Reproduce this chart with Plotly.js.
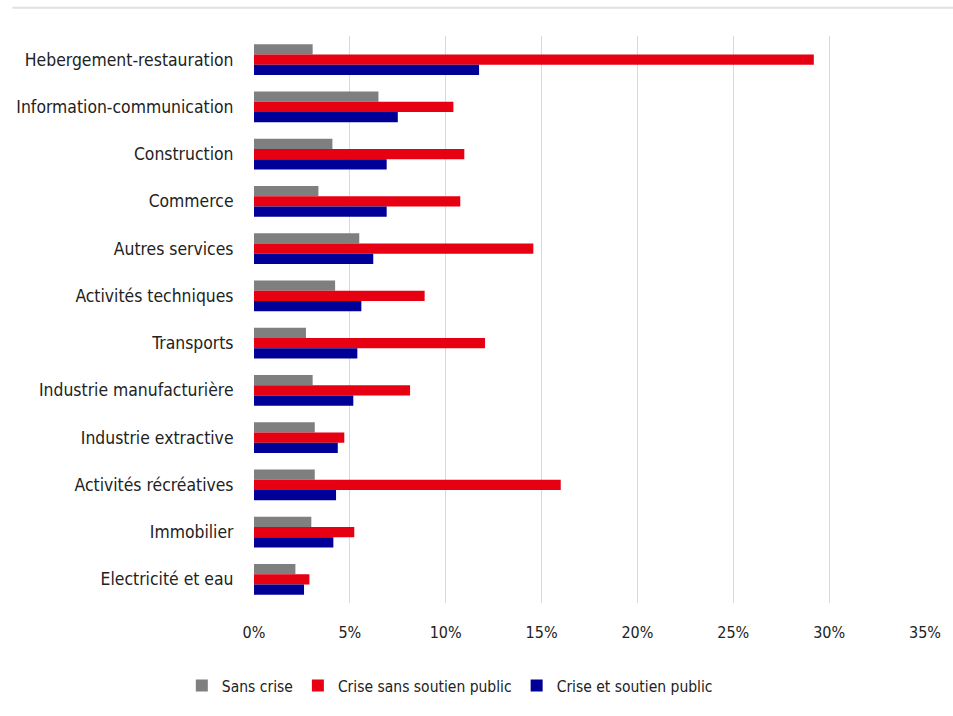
<!DOCTYPE html>
<html>
<head>
<meta charset="utf-8">
<script src="https://cdn.plot.ly/plotly-3.0.1.min.js"></script>
<style>html,body{margin:0;padding:0;background:#fff;}#chart{width:953px;height:716px;}</style>
</head>
<body>
<div id="chart"></div>
<script>
const categories = [
  "Hebergement-restauration",
  "Information-communication",
  "Construction",
  "Commerce",
  "Autres services",
  "Activités techniques",
  "Transports",
  "Industrie manufacturière",
  "Industrie extractive",
  "Activités récréatives",
  "Immobilier",
  "Electricité et eau"
];
const sansCrise = [3.06, 6.49, 4.09, 3.36, 5.49, 4.23, 2.71, 3.06, 3.17, 3.17, 2.99, 2.16];
const criseSansSoutien = [29.2, 10.4, 10.97, 10.76, 14.57, 8.9, 12.05, 8.14, 4.71, 16.0, 5.23, 2.89];
const criseEtSoutien = [11.74, 7.5, 6.92, 6.92, 6.22, 5.6, 5.39, 5.18, 4.37, 4.28, 4.14, 2.61];
const seriesNames = ["Sans crise", "Crise sans soutien public", "Crise et soutien public"];
const xTicks = [0, 5, 10, 15, 20, 25, 30, 35];

const font = "Liberation Sans Narrow, DejaVu Sans Condensed, Liberation Sans, sans-serif";
const colors = ["#7f7f7f", "#e60012", "#000096"];
const vals = [sansCrise, criseSansSoutien, criseEtSoutien];

const data = vals.map((v, i) => ({
  type: "bar",
  orientation: "h",
  name: seriesNames[i],
  y: categories,
  x: v,
  marker: {color: colors[i]},
  hoverinfo: "x+y"
}));

const layout = {
  width: 953,
  height: 716,
  paper_bgcolor: "#ffffff",
  plot_bgcolor: "#ffffff",
  margin: {l: 254, r: 28, t: 36, b: 113},
  barmode: "group",
  bargap: 0.35,
  bargroupgap: 0,
  font: {family: font, size: 16, color: "#222222"},
  xaxis: {
    range: [0, 35],
    tickvals: xTicks,
    ticktext: xTicks.map(t => t + "%"),
    showgrid: true,
    gridcolor: "#d9d9d9",
    gridwidth: 1,
    zeroline: false,
    showline: false,
    ticks: "outside",
    ticklen: 15,
    tickcolor: "rgba(0,0,0,0)",
    tickfont: {family: font, size: 16, color: "#222222"},
    fixedrange: true
  },
  yaxis: {
    type: "category",
    autorange: "reversed",
    showgrid: false,
    zeroline: false,
    showline: false,
    ticks: "outside",
    ticklen: 16,
    tickcolor: "rgba(0,0,0,0)",
    tickfont: {family: font, size: 17.4, color: "#222222"},
    fixedrange: true
  },
  showlegend: true,
  legend: {
    orientation: "h",
    xref: "container",
    yref: "container",
    x: 0.472,
    xanchor: "center",
    y: 0.042,
    yanchor: "middle",
    font: {family: font, size: 15.5, color: "#222222"},
    traceorder: "normal",
    itemwidth: 30
  },
  shapes: [
    {type: "line", xref: "paper", yref: "paper", x0: -0.36, x1: 1.05, y0: 1.05, y1: 1.05,
     line: {color: "#e0e0e0", width: 2}}
  ]
};

Plotly.newPlot("chart", data, layout, {displayModeBar: false, staticPlot: true});
</script>
</body>
</html>
